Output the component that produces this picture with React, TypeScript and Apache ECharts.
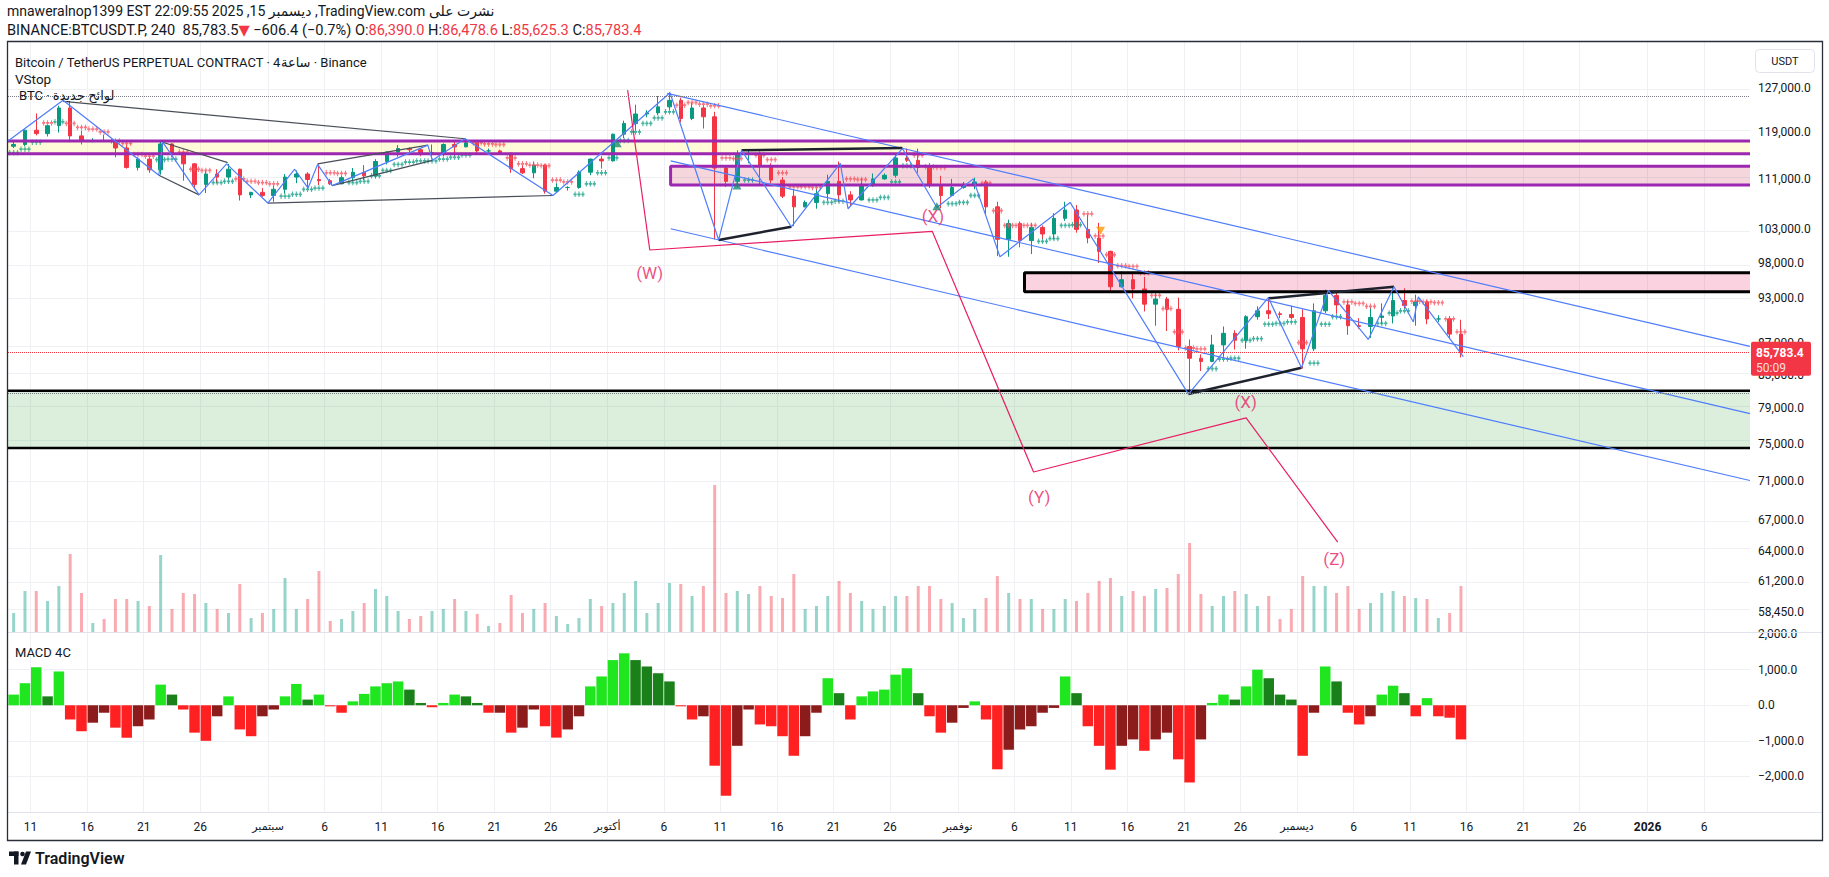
import React, { useEffect, useRef } from 'react';
import * as echarts from 'echarts';

// ---------- time base ----------
const BASE = Date.UTC(2025, 7, 9); // 9 Aug 2025 00:00 (day offset 0)
const DAY = 86400000;

// ---------- daily OHLC, thousand USDT (9 Aug .. 15 Dec 2025) ----------
const opens = [
  116.5, 116.8, 119.3, 118.7, 120.1, 123.3, 118.3, 117.4, 117.5, 117.4,
  116.2, 112.9, 114.3, 112.5, 116.9, 115.4, 113.5, 110.1, 111.8, 111.3,
  112.6, 108.4, 108.8, 108.3, 109.3, 111.3, 111.8, 110.9, 110.7, 110.2,
  111.2, 112.1, 111.5, 113.9, 115.5, 116.1, 115.9, 115.3, 115.4, 116.8,
  116.4, 117.1, 115.7, 115.7, 115.3, 112.7, 112.0, 113.3, 109.0, 109.6,
  109.6, 112.1, 114.3, 114.0, 118.6, 120.5, 122.2, 122.4, 123.5, 124.7,
  121.4, 123.3, 121.7, 112.8, 110.6, 115.2, 115.3, 113.1, 110.8, 108.2,
  106.5, 107.2, 108.6, 110.6, 108.4, 107.6, 110.1, 111.0, 111.6, 114.5,
  114.1, 112.9, 110.0, 108.3, 109.6, 110.1, 110.5, 106.5, 101.5, 103.9,
  101.3, 103.3, 102.3, 104.7, 106.0, 103.0, 101.7, 99.7, 94.6, 95.6,
  94.3, 92.2, 92.9, 91.5, 86.6, 85.1, 84.7, 86.8, 88.3, 87.4,
  90.5, 91.3, 90.9, 90.8, 90.4, 86.3, 91.3, 93.4, 92.1, 89.3,
  89.2, 90.4, 90.6, 92.7, 92.0, 92.5, 90.2, 90.2, 88.2,
];
const closes = [
  116.8, 119.3, 118.7, 120.1, 123.3, 118.3, 117.4, 117.5, 117.4, 116.2,
  112.9, 114.3, 112.5, 116.9, 115.4, 113.5, 110.1, 111.8, 111.3, 112.6,
  108.4, 108.8, 108.3, 109.3, 111.3, 111.8, 110.9, 110.7, 110.2, 111.2,
  112.1, 111.5, 113.9, 115.5, 116.1, 115.9, 115.3, 115.4, 116.8, 116.4,
  117.1, 115.7, 115.7, 115.3, 112.7, 112.0, 113.3, 109.0, 109.6, 109.6,
  112.1, 114.3, 114.0, 118.6, 120.5, 122.2, 122.4, 123.5, 124.7, 121.4,
  123.3, 121.7, 112.8, 110.6, 115.2, 115.3, 113.1, 110.8, 108.2, 106.5,
  107.2, 108.6, 110.6, 108.4, 107.6, 110.1, 111.0, 111.6, 114.5, 114.1,
  112.9, 110.0, 108.3, 109.6, 110.1, 110.5, 106.5, 101.5, 103.9, 101.3,
  103.3, 102.3, 104.7, 106.0, 103.0, 101.7, 99.7, 94.6, 95.6, 94.3,
  92.2, 92.9, 91.5, 86.6, 85.1, 84.7, 86.8, 88.3, 87.4, 90.5,
  91.3, 90.9, 90.8, 90.4, 86.3, 91.3, 93.4, 92.1, 89.3, 89.2,
  90.4, 90.6, 92.7, 92.0, 92.5, 90.2, 90.2, 88.2, 85.78,
];
const lows = [
  116.2, 116.5, 118.4, 118.2, 118.9, 117.2, 116.8, 117.2, 117.3, 114.6,
  112.7, 112.4, 112.0, 111.7, 114.7, 110.7, 109.3, 108.7, 110.3, 110.9,
  107.5, 107.9, 108.1, 107.3, 108.6, 110.3, 109.4, 110.0, 110.0, 110.1,
  110.6, 110.8, 111.1, 113.4, 114.7, 115.3, 114.8, 114.4, 114.8, 114.8,
  116.3, 115.2, 115.4, 115.2, 112.0, 111.8, 111.1, 108.6, 108.7, 109.1,
  109.4, 111.6, 112.7, 113.9, 117.9, 119.3, 121.6, 122.0, 123.0, 120.7,
  121.1, 119.6, 101.5, 109.7, 109.6, 113.6, 110.0, 110.3, 107.9, 103.5,
  106.4, 106.2, 107.5, 107.2, 106.6, 107.5, 109.7, 110.9, 111.2, 113.8,
  112.0, 109.5, 106.3, 108.2, 109.4, 109.3, 105.3, 99.0, 98.9, 100.3,
  99.3, 101.5, 101.5, 104.3, 102.5, 100.9, 98.0, 94.0, 94.5, 93.0,
  91.2, 89.3, 88.6, 86.1, 80.6, 83.5, 84.6, 85.3, 86.2, 86.3,
  90.1, 90.2, 90.3, 90.2, 83.8, 86.0, 91.0, 90.9, 88.1, 88.9,
  87.7, 89.5, 89.6, 91.6, 89.3, 89.5, 89.8, 87.6, 85.2,
];
const highs = [
  117.6, 119.4, 122.3, 120.3, 123.7, 124.4, 119.2, 117.9, 118.5, 117.5,
  116.8, 114.6, 114.7, 117.4, 117.0, 115.6, 113.6, 112.3, 112.6, 113.5,
  112.7, 108.9, 109.5, 109.9, 111.8, 112.4, 112.1, 113.4, 111.0, 111.5,
  112.8, 113.3, 114.3, 115.6, 116.7, 116.3, 116.1, 116.8, 117.0, 117.3,
  117.9, 117.4, 116.1, 115.9, 115.4, 113.3, 113.9, 113.4, 110.3, 109.8,
  112.4, 114.4, 114.8, 118.7, 121.0, 123.9, 122.9, 125.5, 126.2, 125.2,
  124.2, 123.8, 122.6, 113.3, 115.8, 116.0, 115.6, 113.6, 111.3, 109.3,
  107.5, 109.4, 111.7, 113.9, 109.0, 111.1, 111.9, 111.9, 115.0, 116.1,
  116.1, 113.6, 111.5, 111.0, 110.5, 111.2, 110.8, 107.3, 104.5, 104.2,
  104.0, 103.6, 105.5, 107.3, 106.8, 105.3, 104.0, 99.8, 96.8, 96.6,
  96.0, 93.8, 93.2, 93.1, 87.5, 85.6, 88.1, 89.2, 88.7, 90.7,
  91.9, 93.1, 91.2, 92.0, 91.5, 92.3, 94.2, 94.0, 92.7, 90.3,
  91.8, 92.3, 94.6, 94.4, 93.5, 92.8, 90.7, 90.6, 90.1,
];

// ---------- VStop (thousand USDT), teal = below price, red = above ----------
const vstopUp = [
  115.4, 116.0, 117.2, null, 120.8, null, null, null, null, null,
  null, null, null, 114.2, 114.3, null, null, null, 110.4, 110.6,
  null, null, null, null, 108.2, 108.5, 109.3, 109.5, null, null,
  110.4, 110.6, 111.5, 112.4, 113.4, 113.8, 114.0, 114.0, 114.3, 114.6,
  115.0, null, null, null, null, null, null, null, null, null,
  108.5, 110.2, 112.0, 114.5, 117.5, 119.0, 120.5, 121.5, 122.6, null,
  null, null, null, null, null, 110.8, null, null, null, null,
  null, null, 107.2, 107.4, null, null, 107.6, 108.0, 110.5, 113.2,
  null, null, null, 107.0, 107.2, 108.3, null, null, null, null,
  null, 101.2, 101.6, 103.6, 103.7, null, null, null, null, null,
  null, null, null, null, null, null, 83.8, 85.0, 85.1, 87.4,
  87.6, 89.5, 89.6, 89.8, null, 84.5, 89.5, 90.5, null, null,
  null, 89.6, 91.0, 91.3, null, null, null, null, null,
];
const vstopDown = [
  null, null, null, 120.6, null, 120.5, 119.8, 119.5, 119.0, 117.4,
  117.0, 115.1, 114.8, null, null, 115.5, 112.6, 112.4, null, null,
  111.0, 110.6, 110.4, 110.2, null, null, null, null, 112.0, 111.9,
  null, null, null, null, null, null, null, null, null, null,
  null, 117.1, 116.9, 116.8, 114.5, 113.5, 113.3, 113.2, 110.8, 110.5,
  null, null, null, null, null, null, null, null, null, 123.8,
  124.3, 124.0, 123.7, 114.5, 114.4, null, 115.0, 114.2, 112.0, 109.7,
  109.7, 109.6, null, null, 111.0, 110.9, null, null, null, null,
  115.0, 113.0, 112.9, null, null, null, 110.3, 105.9, 103.6, 103.6,
  103.6, null, null, null, null, 105.4, 102.0, 99.2, 97.6, 97.5,
  96.6, 93.4, 91.6, 88.5, 86.4, 86.3, null, null, null, null,
  null, null, null, null, 87.1, null, null, null, 92.5, 92.3,
  91.9, null, null, null, 92.6, 92.5, 92.4, 90.2, 88.5,
];

// ---------- volume (relative units) ----------
const volumes = [
  19, 41, 41, 31, 46, 78, 39, 9, 13, 33,
  33, 31, 26, 77, 23, 39, 38, 29, 23, 19,
  48, 14, 19, 23, 54, 23, 33, 61, 11, 13,
  21, 29, 43, 36, 21, 13, 16, 21, 23, 33,
  21, 18, 6, 9, 37, 19, 23, 29, 16, 8,
  14, 33, 26, 29, 39, 51, 19, 29, 49, 48,
  36, 46, 147, 39, 41, 38, 46, 36, 34, 58,
  23, 26, 36, 51, 39, 31, 23, 26, 36, 36,
  46, 46, 33, 29, 14, 23, 34, 56, 39, 33,
  33, 23, 23, 33, 31, 39, 51, 54, 36, 41,
  36, 43, 44, 58, 89, 38, 26, 36, 41, 38,
  26, 36, 13, 23, 56, 46, 46, 39, 46, 23,
  29, 39, 41, 36, 34, 33, 14, 19, 46,
];

// ---------- MACD 4C histogram ----------
const macdHist = [
  300, 620, 1070, 250, 950, -400, -730, -490, -210, -630,
  -910, -590, -400, 580, 300, -120, -770, -1000, -310, 250,
  -680, -870, -310, -120, 250, 600, 160, 300, -30, -210,
  110, 320, 530, 620, 670, 440, 65, -55, 65, 300,
  250, 65, -210, -210, -770, -630, -120, -590, -910, -680,
  -310, 530, 810, 1270, 1460, 1270, 1090, 900, 670, -30,
  -400, -310, -1700, -2540, -1140, -120, -540, -590, -870, -1420,
  -870, -210, 760, 340, -400, 250, 390, 440, 860, 1040,
  340, -310, -770, -490, -75, 110, -400, -1800, -1250, -680,
  -590, -210, -75, 810, 340, -590, -1140, -1810, -1140, -960,
  -1280, -960, -770, -1520, -2170, -960, 65, 300, 160, 530,
  1000, 760, 300, 160, -1420, -210, 1090, 670, -210, -540,
  -310, 300, 550, 340, -310, 200, -310, -350, -960,
];

// ---------- axis ticks ----------
const priceTicks = [127000, 119000, 111000, 103000, 98000, 93000, 87000, 83000, 79000, 75000, 71000, 67000, 64000, 61200, 58450];
const macdTicks = [-2000, -1000, 0, 1000, 2000];
const labelDays = [1, 6, 11, 16, 21, 26];
const monthNames: Record<number, string> = { 7: 'أغسطس', 8: 'سبتمبر', 9: 'أكتوبر', 10: 'نوفمبر', 11: 'ديسمبر' };

// ---------- drawings: [day offset, thousand USDT] ----------
const zigzag = [
  [0, 117.4], [4.87, 124.7], [13.34, 111.6], [13.68, 117.2], [16.9, 108.4], [19.33, 113.5],
  [22.98, 107.1], [25.35, 112.6], [26.54, 109.5], [27.38, 113.4], [28.67, 109.9], [37.13, 116.7],
  [37.54, 114.1], [40.42, 117.8], [48.2, 108.3], [58.55, 126.1], [62.85, 101.4], [64.88, 115.8],
  [69.28, 103.4], [73.61, 113.6], [74.29, 106.2], [79.1, 116.1], [82.15, 106.4], [85.36, 111.0],
  [87.73, 98.9], [93.93, 107.2], [104.4, 80.7], [111.46, 93.1], [114.4, 83.9], [116.77, 94.1],
  [120.3, 87.5], [122.58, 94.6], [124.29, 89.8], [124.73, 93.2], [128.71, 85.3],
];
const thinPatternLines = [
  [[4.87, 124.5], [40.42, 117.8]],
  [[13.68, 117.2], [19.43, 113.7]],
  [[13.34, 111.6], [16.9, 108.4]],
  [[22.98, 107.1], [48.2, 108.3]],
  [[27.38, 113.5], [37.13, 116.7]],
  [[28.67, 109.9], [37.54, 114.1]],
];
const thickPatternLines = [
  [[64.88, 115.8], [79.1, 116.2]],
  [[62.85, 101.4], [69.28, 103.4]],
  [[104.4, 80.7], [114.4, 83.9]],
  [[111.46, 93.0], [122.58, 94.6]],
];
const channelUpper = [[58.3, 126.0], [154.06, 86.6]];
const channelMiddle = [[58.61, 114.0], [154.06, 78.4]];
const channelLower = [[58.61, 103.1], [154.06, 71.0]];
const wavePath = [[54.8, 126.6], [56.76, 99.9], [81.74, 102.7], [90.7, 71.9], [109.5, 77.9], [117.6, 64.8]];
const waveLabels = [
  { name: '(W)', t: 56.75, p: 96.5 },
  { name: '(X)', t: 81.8, p: 105.0 },
  { name: '(Y)', t: 91.2, p: 69.3 },
  { name: '(X)', t: 109.46, p: 79.8 },
  { name: '(Z)', t: 117.3, p: 63.2 },
];
const upMarkers = [[53.88, 117.0], [64.47, 109.9], [82.15, 106.6]];
const downMarkers = [[96.63, 102.8]];

const yellowBand = { top: 117.4, bottom: 115.2 };
const purpleBox = { start: 58.6, top: 113.1, bottom: 110.0 };
const pinkBox = { start: 89.9, top: 96.6, bottom: 93.9 };
const greenZone = { top: 81.1, bottom: 74.5 };
const athLevel = 126.1;
const lowLevel = 80.6;
const lastPrice = 85783.4;
const lastPriceText = '85,783.4';
const countdownText = '50:09';

// ---------- texts ----------
const headerPartA = 'mnaweralnop1399 EST 22:09:55 2025 ,15 ديسمبر ,TradingView.com ';
const headerPartB = 'نشرت على';
const headerLine2 = 'BINANCE:BTCUSDT.P, 240  85,783.5{r|▼} −606.4 (−0.7%) O:{r|86,390.0} H:{r|86,478.6} L:{r|85,625.3} C:{r|85,783.4}';
const titleLine = 'Bitcoin / TetherUS PERPETUAL CONTRACT · 4{a|ساعة} · Binance';

// ---------- layout helpers ----------
const FONT = 'Roboto, "Noto Sans", "DejaVu Sans", Arial, sans-serif';
const TXT = '#131722';
const GRID = '#eef0f4';
const X_MAX = 1742 / 11.307;
const L = (p: number) => Math.log(p);
const K = (k: number) => Math.log(k * 1000);
const Y_MAX = L(127000) + 46 / 675;
const Y_MIN = L(127000) - 544 / 675;

const labelTs: number[] = [];
for (let t = 0; t <= Math.floor(X_MAX); t++) {
  const d = new Date(BASE + t * DAY);
  if (labelDays.includes(d.getUTCDate())) labelTs.push(t);
}

const fmtPrice = (v: number) =>
  Math.round(Math.exp(v)).toLocaleString('en-US', { minimumFractionDigits: 1, maximumFractionDigits: 1 });
const fmtMacd = (v: number) => {
  if (v < -2500 || Math.abs(v % 1000) > 1) return '';
  const s = Math.abs(v).toLocaleString('en-US', { minimumFractionDigits: 1, maximumFractionDigits: 1 });
  return v < 0 ? '−' + s : s;
};
const fmtDate = (v: number) => {
  const d = new Date(BASE + Math.round(v) * DAY);
  const day = d.getUTCDate();
  const m = d.getUTCMonth();
  if (day === 1) return m === 0 ? `{y|${d.getUTCFullYear()}}` : `{m|${monthNames[m]}}`;
  return String(day);
};

function measure(text: string, size: number) {
  const ctx = document.createElement('canvas').getContext('2d');
  if (!ctx) return text.length * size * 0.5;
  ctx.font = `${size}px ${FONT}`;
  return ctx.measureText(text).width;
}

const PLUS3 =
  'path://M1,3.7H9V6.3H1Z M3.7,1H6.3V9H3.7Z M11,3.7H19V6.3H11Z M13.7,1H16.3V9H13.7Z M21,3.7H29V6.3H21Z M23.7,1H26.3V9H23.7Z';

const hidden = (i: number) => ({
  type: 'line', xAxisIndex: i, yAxisIndex: i, data: [[1, i === 2 ? 0 : K(100)]], symbol: 'none',
  lineStyle: { opacity: 0 }, silent: true,
});

const seg = (pts: number[][], color: string, width: number, z = 4, type = 'solid') => ({
  type: 'line', xAxisIndex: 0, yAxisIndex: 0, data: pts.map(([t, p]) => [t, K(p)]), symbol: 'none',
  silent: true, z, lineStyle: { color, width, type }, clip: true,
});

function buildGraphics(tagY: number | null) {
  const wA = measure(headerPartA, 14);
  const wB = measure(headerPartB, 14);
  const g: any[] = [
    { type: 'line', silent: true, z: 50, shape: { x1: 8, y1: 632.5, x2: 1822, y2: 632.5 }, style: { stroke: '#e0e3eb', lineWidth: 1 } },
    { type: 'line', silent: true, z: 50, shape: { x1: 8, y1: 812.5, x2: 1822, y2: 812.5 }, style: { stroke: '#e0e3eb', lineWidth: 1 } },
    { type: 'rect', silent: true, z: 100, shape: { x: 7.5, y: 41.5, width: 1815, height: 799 }, style: { fill: 'none', stroke: '#2a2e39', lineWidth: 1.3 } },
    { type: 'rect', silent: true, z: 60, shape: { x: 1755.5, y: 49.5, width: 59, height: 23, r: 4 }, style: { fill: '#ffffff', stroke: '#e0e3eb', lineWidth: 1 } },
    { type: 'text', silent: true, z: 61, x: 1785, y: 61.5, style: { text: 'USDT', fill: TXT, fontSize: 11, fontFamily: FONT, align: 'center', verticalAlign: 'middle' } },
    { type: 'text', silent: true, z: 60, x: 7, y: 11, style: { text: headerPartA, fill: TXT, fontSize: 14, fontFamily: FONT, verticalAlign: 'middle' } },
    { type: 'text', silent: true, z: 60, x: 7 + wA + wB / 2, y: 11, style: { text: headerPartB, fill: TXT, fontSize: 14, fontFamily: FONT, align: 'center', verticalAlign: 'middle' } },
    {
      type: 'text', silent: true, z: 60, x: 7, y: 30,
      style: { text: headerLine2, fill: TXT, fontSize: 14.6, fontFamily: FONT, verticalAlign: 'middle', rich: { r: { fill: '#f23645', fontSize: 14.6, fontFamily: FONT } } },
    },
    {
      type: 'text', silent: true, z: 60, x: 15, y: 62,
      style: { text: titleLine, fill: TXT, fontSize: 13, fontFamily: FONT, verticalAlign: 'middle', rich: { a: { fill: TXT, fontSize: 13, fontFamily: FONT } } },
    },
    { type: 'text', silent: true, z: 60, x: 15, y: 79, style: { text: 'VStop', fill: TXT, fontSize: 13.5, fontFamily: FONT, verticalAlign: 'middle' } },
    { type: 'text', silent: true, z: 60, x: 19, y: 95, style: { text: 'BTC · لوائح جديدة', fill: TXT, fontSize: 13, fontFamily: FONT, verticalAlign: 'middle' } },
    { type: 'text', silent: true, z: 60, x: 15, y: 652, style: { text: 'MACD 4C', fill: TXT, fontSize: 13, fontFamily: FONT, verticalAlign: 'middle' } },
    // TradingView logo
    { type: 'rect', silent: true, z: 60, shape: { x: 9, y: 851.5, width: 9.5, height: 4.5 }, style: { fill: '#131722' } },
    { type: 'rect', silent: true, z: 60, shape: { x: 14, y: 851.5, width: 4.5, height: 13 }, style: { fill: '#131722' } },
    { type: 'circle', silent: true, z: 60, shape: { cx: 22.5, cy: 854, r: 2.3 }, style: { fill: '#131722' } },
    { type: 'polygon', silent: true, z: 60, shape: { points: [[21, 864.5], [26, 851.5], [31, 851.5], [26, 864.5]] }, style: { fill: '#131722' } },
    { type: 'text', silent: true, z: 60, x: 35, y: 858.5, style: { text: 'TradingView', fill: '#131722', fontSize: 16, fontWeight: 600, fontFamily: FONT, verticalAlign: 'middle' } },
  ];
  if (tagY != null) {
    g.push(
      { type: 'rect', silent: true, z: 70, shape: { x: 1751, y: tagY - 11, width: 60, height: 34, r: 2 }, style: { fill: '#f23645' } },
      { type: 'text', silent: true, z: 71, x: 1756, y: tagY, style: { text: lastPriceText, fill: '#ffffff', fontSize: 12, fontWeight: 'bold', fontFamily: FONT, verticalAlign: 'middle' } },
      { type: 'text', silent: true, z: 71, x: 1756, y: tagY + 15, style: { text: countdownText, fill: 'rgba(255,255,255,0.85)', fontSize: 12, fontFamily: FONT, verticalAlign: 'middle' } },
    );
  }
  return g;
}

function buildOption() {
  const candleData = opens.map((o, i) => [i + 0.5, K(o), K(closes[i]), K(lows[i]), K(highs[i])]);
  const upStops = vstopUp.map((v, i) => (v == null ? null : [i + 0.5, K(v)])).filter(Boolean);
  const dnStops = vstopDown.map((v, i) => (v == null ? null : [i + 0.5, K(v)])).filter(Boolean);
  const volData = volumes.map((v, i) => ({
    value: [i + 0.5, v],
    itemStyle: { color: closes[i] >= opens[i] ? 'rgba(8,153,129,0.42)' : 'rgba(242,54,69,0.42)' },
  }));
  const macdData = macdHist.map((v, i) => {
    const prev = i > 0 ? macdHist[i - 1] : 0;
    const color = v >= 0 ? (v > prev ? '#1fe61f' : '#1a801a') : v < prev ? '#ff2121' : '#8c1b1b';
    return { value: [i + 0.5, v], itemStyle: { color } };
  });

  const boxLine = (b: { start: number; top: number; bottom: number }) => [
    [X_MAX, b.top], [b.start, b.top], [b.start, b.bottom], [X_MAX, b.bottom],
  ];

  const series: any[] = [
    {
      ...hidden(0), z: 0,
      markLine: {
        silent: true, symbol: ['none', 'none'], label: { show: false }, z: 0,
        lineStyle: { color: GRID, width: 1, type: 'solid' },
        data: [...priceTicks.map((p) => ({ yAxis: L(p) })), ...labelTs.map((t) => ({ xAxis: t }))],
      },
    },
    {
      ...hidden(0), z: 1,
      markArea: {
        silent: true, z: 1,
        data: [
          [{ xAxis: 0, yAxis: K(yellowBand.top), itemStyle: { color: 'rgba(255,235,59,0.2)' } }, { xAxis: X_MAX, yAxis: K(yellowBand.bottom) }],
          [{ xAxis: purpleBox.start, yAxis: K(purpleBox.top), itemStyle: { color: 'rgba(200,50,80,0.2)' } }, { xAxis: X_MAX, yAxis: K(purpleBox.bottom) }],
          [{ xAxis: pinkBox.start, yAxis: K(pinkBox.top), itemStyle: { color: 'rgba(233,30,99,0.2)' } }, { xAxis: X_MAX, yAxis: K(pinkBox.bottom) }],
          [{ xAxis: 0, yAxis: K(greenZone.top), itemStyle: { color: 'rgba(76,175,80,0.2)' } }, { xAxis: X_MAX, yAxis: K(greenZone.bottom) }],
        ],
      },
    },
    { type: 'bar', xAxisIndex: 1, yAxisIndex: 1, data: volData, barWidth: 3, z: 1, silent: true },
    {
      type: 'candlestick', xAxisIndex: 0, yAxisIndex: 0, data: candleData, encode: { x: 0, y: [1, 2, 3, 4] },
      barWidth: 4, z: 2, silent: true,
      itemStyle: { color: '#089981', color0: '#f23645', borderColor: '#089981', borderColor0: '#f23645', borderWidth: 1 },
    },
    { type: 'scatter', xAxisIndex: 0, yAxisIndex: 0, data: upStops, symbol: PLUS3, symbolSize: [11, 5.5], itemStyle: { color: '#0f9d84' }, z: 3, silent: true },
    { type: 'scatter', xAxisIndex: 0, yAxisIndex: 0, data: dnStops, symbol: PLUS3, symbolSize: [11, 5.5], itemStyle: { color: '#f7525f' }, z: 3, silent: true },
    seg([[0, yellowBand.top], [X_MAX, yellowBand.top]], '#9c27b0', 3),
    seg([[0, yellowBand.bottom], [X_MAX, yellowBand.bottom]], '#9c27b0', 3),
    seg(boxLine(purpleBox), '#9c27b0', 3),
    seg(boxLine(pinkBox), '#000000', 3),
    seg([[0, greenZone.top], [X_MAX, greenZone.top]], '#000000', 2.5),
    seg([[0, greenZone.bottom], [X_MAX, greenZone.bottom]], '#000000', 2.5),
    seg(channelUpper, '#4f7dfc', 1.2),
    seg(channelMiddle, '#4f7dfc', 1.2),
    seg(channelLower, '#4f7dfc', 1.2),
    ...thinPatternLines.map((p) => seg(p, '#4a4e59', 1.2)),
    ...thickPatternLines.map((p) => seg(p, '#1e222d', 2.5)),
    seg(zigzag, '#4f7dfc', 1.2, 5),
    seg(wavePath, '#e91e63', 1.2, 5),
    {
      ...hidden(0), z: 6,
      markLine: {
        silent: true, symbol: ['none', 'none'], z: 6, label: { show: false },
        data: [
          { yAxis: K(athLevel), lineStyle: { color: '#787b86', type: 'dotted', width: 1 } },
          { yAxis: K(lowLevel), lineStyle: { color: '#787b86', type: 'dotted', width: 1 } },
          { yAxis: L(lastPrice), lineStyle: { color: '#f23645', type: 'dotted', width: 1 } },
        ],
      },
    },
    { type: 'scatter', xAxisIndex: 0, yAxisIndex: 0, data: upMarkers.map(([t, p]) => [t, K(p)]), symbol: 'triangle', symbolSize: [9, 8], itemStyle: { color: '#1b8a78' }, z: 6, silent: true },
    { type: 'scatter', xAxisIndex: 0, yAxisIndex: 0, data: downMarkers.map(([t, p]) => [t, K(p)]), symbol: 'path://M0,0L10,0L5,8Z', symbolSize: [9, 8], itemStyle: { color: '#ff9800' }, z: 6, silent: true },
    {
      type: 'scatter', xAxisIndex: 0, yAxisIndex: 0, symbolSize: 1, itemStyle: { color: 'rgba(0,0,0,0)' }, z: 7, silent: true,
      data: waveLabels.map((w) => ({ name: w.name, value: [w.t, K(w.p)] })),
      label: { show: true, position: 'inside', formatter: '{b}', color: '#e91e63', fontSize: 17, fontFamily: FONT },
    },
    {
      ...hidden(2), z: 0,
      markLine: {
        silent: true, symbol: ['none', 'none'], label: { show: false }, z: 0,
        lineStyle: { color: GRID, width: 1, type: 'solid' },
        data: [...[-2000, -1000, 0, 1000].map((v) => ({ yAxis: v })), ...labelTs.map((t) => ({ xAxis: t }))],
      },
    },
    { type: 'bar', xAxisIndex: 2, yAxisIndex: 2, data: macdData, barWidth: 10.5, z: 2, silent: true },
  ];

  const xAxisBase = (i: number) => ({
    type: 'value', gridIndex: i, min: 0, max: X_MAX,
    axisLine: { show: false }, axisTick: { show: false }, splitLine: { show: false },
    axisLabel: { show: false },
  });

  return {
    animation: false,
    backgroundColor: '#ffffff',
    textStyle: { fontFamily: FONT },
    grid: [
      { left: 8, top: 42, width: 1742, height: 590 },
      { left: 8, top: 432, width: 1742, height: 200 },
      { left: 8, top: 633, width: 1742, height: 179 },
    ],
    xAxis: [
      xAxisBase(0),
      xAxisBase(1),
      {
        ...xAxisBase(2),
        axisLabel: {
          show: true, customValues: labelTs, formatter: fmtDate, color: TXT, fontSize: 12, margin: 9, fontFamily: FONT,
          rich: { y: { fontWeight: 'bold', fontSize: 12, color: TXT, fontFamily: FONT }, m: { fontSize: 11, color: TXT, fontFamily: FONT } },
        },
      },
    ],
    yAxis: [
      {
        type: 'value', gridIndex: 0, position: 'right', min: Y_MIN, max: Y_MAX,
        axisLine: { show: false }, axisTick: { show: false }, splitLine: { show: false },
        axisLabel: { customValues: priceTicks.map(L), formatter: fmtPrice, color: TXT, fontSize: 12, margin: 8, fontFamily: FONT },
      },
      { type: 'value', gridIndex: 1, min: 0, max: 200, show: false },
      {
        type: 'value', gridIndex: 2, position: 'right', min: -3000, max: 2031,
        axisLine: { show: false }, axisTick: { show: false }, splitLine: { show: false },
        axisLabel: { customValues: macdTicks, formatter: fmtMacd, color: TXT, fontSize: 12, margin: 8, fontFamily: FONT },
      },
    ],
    series,
    graphic: buildGraphics(null),
  };
}

export default function App() {
  const ref = useRef<HTMLDivElement>(null);
  useEffect(() => {
    if (!ref.current) return;
    const chart = echarts.init(ref.current, null, { renderer: 'svg' });
    chart.setOption(buildOption() as any);
    // current-price tag on the price scale, placed through the y-axis scale
    const y = chart.convertToPixel({ yAxisIndex: 0 }, L(lastPrice)) as number;
    chart.setOption({ graphic: buildGraphics(y) } as any);
    return () => chart.dispose();
  }, []);
  return <div ref={ref} style={{ position: 'fixed', left: 0, top: 0, width: 1829, height: 877, background: '#fff' }} />;
}
